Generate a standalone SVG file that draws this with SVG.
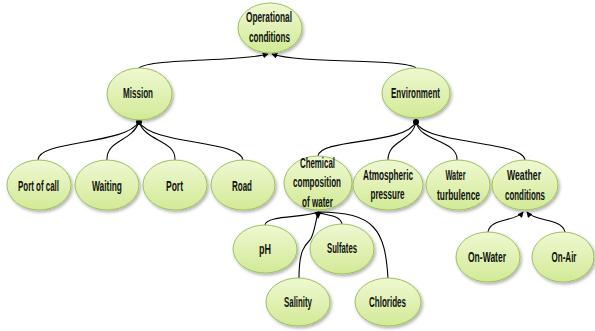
<svg xmlns="http://www.w3.org/2000/svg" width="595" height="331" viewBox="0 0 595 331">
<defs>
<linearGradient id="g" x1="0" y1="0" x2="0" y2="1">
<stop offset="0" stop-color="#eff8d2"/>
<stop offset="1" stop-color="#d2ea96"/>
</linearGradient>
<filter id="sh" x="-20%" y="-20%" width="150%" height="150%">
<feDropShadow dx="1.5" dy="2" stdDeviation="1.5" flood-color="#000" flood-opacity="0.3"/>
</filter>
<marker id="arr" viewBox="0 0 8 8" refX="7" refY="4" markerWidth="6" markerHeight="6" orient="auto" markerUnits="userSpaceOnUse">
<path d="M0,0 L8,4 L0,8 Z" fill="#000"/>
</marker>
</defs>
<style>
.n ellipse{fill:url(#g);stroke:#9dc05e;stroke-width:1;filter:url(#sh)}
.n text{font-family:"Liberation Sans Narrow","Liberation Sans",Arial,sans-serif;font-weight:bold;font-size:14.5px;fill:#111;text-anchor:middle}
#connectors path{fill:none;stroke:#000;stroke-width:1.1}
.a{marker-end:url(#arr)}
</style>
<rect width="595" height="331" fill="#fff"/>
<g id="connectors">
<path class="a" d="M139,68 C150,58 240,62 268,54"/>
<path class="a" d="M416,68 C405,58 300,64 272,54"/>
<path d="M38,160 C38,140 125,145 139,122"/>
<path d="M107,160 C106,140 132,142 139,122"/>
<path d="M175,160 C176,140 146,142 139,122"/>
<path d="M243,160 C240,140 152,145 139,122"/>
<circle cx="139" cy="122" r="3" fill="#000"/>
<path d="M318,156 C320,138 405,145 416,122"/>
<path d="M388,160 C388,140 412,142 416,122"/>
<path d="M457,160 C458,140 420,142 416,122"/>
<path d="M525,160 C522,140 425,145 416,122"/>
<circle cx="416" cy="122" r="3" fill="#000"/>
<path d="M265,225 C266,215 305,218 318,212"/>
<path d="M342,224 C340,214 325,216 318,212"/>
<path d="M299,278 C299,250 305,245 310,240 C314,235 315,225 318,212"/>
<path d="M388,278 C385,230 375,212 318,212"/>
<path d="M318,219 L314.5,212 L321.5,212 Z" style="fill:#000;stroke:none"/>
<path class="a" d="M488,232 C490,218 515,222 523,212"/>
<path class="a" d="M565,232 C562,218 535,222 527,212"/>
</g>
<g id="operational" class="n"><ellipse cx="270" cy="28" rx="32" ry="25"/><text x="269" y="22" textLength="46" lengthAdjust="spacingAndGlyphs">Operational</text><text x="269.5" y="42" textLength="41" lengthAdjust="spacingAndGlyphs">conditions</text></g>
<g id="mission" class="n"><ellipse cx="139.5" cy="94" rx="32.5" ry="26"/><text x="138" y="98" textLength="30" lengthAdjust="spacingAndGlyphs">Mission</text></g>
<g id="environment" class="n"><ellipse cx="416" cy="93" rx="34" ry="25"/><text x="415.5" y="98" textLength="49" lengthAdjust="spacingAndGlyphs">Environment</text></g>
<g id="portofcall" class="n"><ellipse cx="39" cy="185" rx="32" ry="25"/><text x="38.5" y="191" textLength="41" lengthAdjust="spacingAndGlyphs">Port of call</text></g>
<g id="waiting" class="n"><ellipse cx="107" cy="185" rx="32" ry="25"/><text x="107" y="191" textLength="30" lengthAdjust="spacingAndGlyphs">Waiting</text></g>
<g id="port" class="n"><ellipse cx="175" cy="185" rx="32" ry="25"/><text x="174.5" y="191" textLength="17" lengthAdjust="spacingAndGlyphs">Port</text></g>
<g id="road" class="n"><ellipse cx="243" cy="185" rx="32" ry="25"/><text x="242" y="191" textLength="20" lengthAdjust="spacingAndGlyphs">Road</text></g>
<g id="chemical" class="n"><ellipse cx="318" cy="183" rx="34" ry="27"/><text x="317.5" y="168" textLength="35" lengthAdjust="spacingAndGlyphs">Chemical</text><text x="317" y="187" textLength="48" lengthAdjust="spacingAndGlyphs">composition</text><text x="317.5" y="207" textLength="31" lengthAdjust="spacingAndGlyphs">of water</text></g>
<g id="atmospheric" class="n"><ellipse cx="388" cy="185" rx="35" ry="25"/><text x="388" y="180" textLength="50" lengthAdjust="spacingAndGlyphs">Atmospheric</text><text x="387.5" y="199" textLength="34" lengthAdjust="spacingAndGlyphs">pressure</text></g>
<g id="waterturbulence" class="n"><ellipse cx="458" cy="185" rx="32" ry="25"/><text x="455.5" y="180" textLength="20" lengthAdjust="spacingAndGlyphs">Water</text><text x="458.5" y="200" textLength="43" lengthAdjust="spacingAndGlyphs">turbulence</text></g>
<g id="weather" class="n"><ellipse cx="525" cy="185" rx="33" ry="25"/><text x="524" y="180" textLength="34" lengthAdjust="spacingAndGlyphs">Weather</text><text x="525" y="200" textLength="40" lengthAdjust="spacingAndGlyphs">conditions</text></g>
<g id="ph" class="n"><ellipse cx="265" cy="249" rx="32" ry="24"/><text x="265" y="254" textLength="12" lengthAdjust="spacingAndGlyphs">pH</text></g>
<g id="sulfates" class="n"><ellipse cx="342" cy="249" rx="32" ry="25"/><text x="342" y="253" textLength="30" lengthAdjust="spacingAndGlyphs">Sulfates</text></g>
<g id="salinity" class="n"><ellipse cx="298" cy="302" rx="32" ry="24"/><text x="298" y="307" textLength="28" lengthAdjust="spacingAndGlyphs">Salinity</text></g>
<g id="chlorides" class="n"><ellipse cx="388" cy="302" rx="33" ry="24"/><text x="387.5" y="307" textLength="37" lengthAdjust="spacingAndGlyphs">Chlorides</text></g>
<g id="onwater" class="n"><ellipse cx="488" cy="257" rx="32" ry="25"/><text x="487" y="262" textLength="38" lengthAdjust="spacingAndGlyphs">On-Water</text></g>
<g id="onair" class="n"><ellipse cx="563" cy="257" rx="31" ry="25"/><text x="564" y="262" textLength="25" lengthAdjust="spacingAndGlyphs">On-Air</text></g>
</svg>
